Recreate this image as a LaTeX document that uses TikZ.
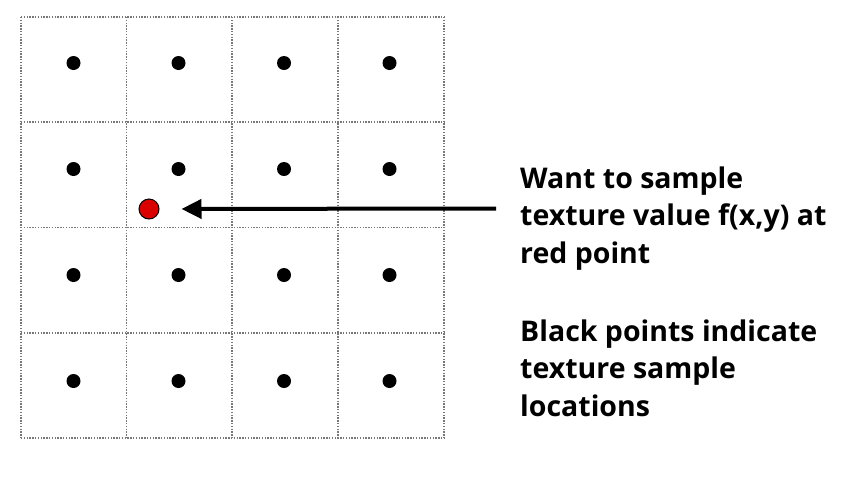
\documentclass[tikz,border=0pt]{standalone}
\usepackage{fontspec}
\setmainfont{Open Sans}
\usetikzlibrary{arrows.meta}
\definecolor{gridgray}{RGB}{120,120,120}
\definecolor{redpt}{RGB}{218,0,0}
\tikzset{
  gridline/.style={draw=gridgray, line width=1.4pt, dash pattern=on 1.4pt off 1.4pt},
  sampledot/.style={circle, fill=black, inner sep=0pt, minimum size=14pt},
  querydot/.style={circle, fill=redpt, draw=black, line width=1pt, inner sep=0pt, minimum size=20pt},
  pointer/.style={line width=4pt, -{Triangle[length=20pt,width=19pt]}, shorten >=22pt},
  caption/.style={anchor=base west, align=left, inner sep=0pt, font=\fontsize{28.5}{37.5}\selectfont\bfseries}
}
\begin{document}
\begin{tikzpicture}[x=1pt,y=-1pt]
\useasboundingbox (0,0) rectangle (856,480);
% grid
\foreach \x in {21,126.5,232,338,444} \draw[gridline] (\x,17) -- (\x,438);
\foreach \y in {17,122,227.5,333,438} \draw[gridline] (21,\y) -- (444,\y);
% sample points
\foreach \i/\x in {1/73.5,2/178.5,3/284,4/389.5}
  \foreach \j/\y in {1/63,2/169,3/275,4/381}
    \node[sampledot] (s\i\j) at (\x,\y) {};
% query point
\node[querydot] (q) at (149,209) {};
\coordinate (astart) at (496,208.5);
\draw[pointer] (astart) -- (q);
% texts (base anchor = last line)
\node[caption] (t1) at (520,263) {Want to sample\\texture value f(x,y) at\\red point};
\node[caption] (t2) at (520,416) {Black points indicate\\texture sample\\locations};
\end{tikzpicture}
\end{document}
